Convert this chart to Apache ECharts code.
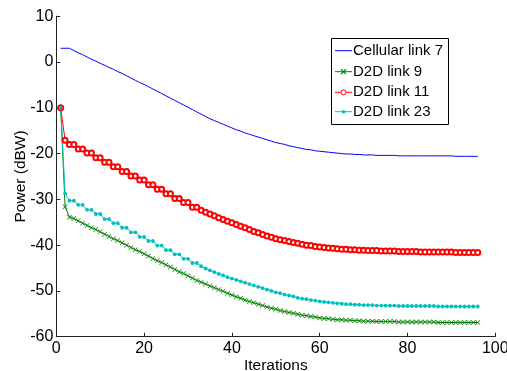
<!DOCTYPE html>
<html>
<head>
<meta charset="utf-8">
<script src="https://cdn.jsdelivr.net/npm/echarts@6/dist/echarts.min.js"></script>
<style>
html,body{margin:0;padding:0;background:#fff;}
#c{width:507px;height:371px;}
</style>
</head>
<body>
<div id="c"></div>
<script>
var iterations = [1,2,3,4,5,6,7,8,9,10,11,12,13,14,15,16,17,18,19,20,21,22,23,24,25,26,27,28,29,30,31,32,33,34,35,36,37,38,39,40,41,42,43,44,45,46,47,48,49,50,51,52,53,54,55,56,57,58,59,60,61,62,63,64,65,66,67,68,69,70,71,72,73,74,75,76,77,78,79,80,81,82,83,84,85,86,87,88,89,90,91,92,93,94,95,96];

var cellular7 = [3.0,3.0,3.0,2.5,2.0,1.6,1.1,0.6,0.2,-0.3,
-0.7,-1.2,-1.6,-2.1,-2.5,-3.0,-3.5,-4.0,-4.5,-4.9,
-5.4,-5.9,-6.4,-6.9,-7.4,-7.9,-8.4,-8.9,-9.4,-9.9,
-10.4,-10.9,-11.4,-11.9,-12.4,-12.8,-13.2,-13.6,-14.0,-14.4,
-14.8,-15.1,-15.5,-15.8,-16.1,-16.4,-16.7,-17.0,-17.3,-17.6,
-17.8,-18.0,-18.3,-18.5,-18.7,-18.9,-19.1,-19.2,-19.4,-19.5,
-19.6,-19.7,-19.8,-19.9,-20.0,-20.1,-20.1,-20.2,-20.2,-20.3,
-20.3,-20.3,-20.4,-20.4,-20.4,-20.4,-20.4,-20.5,-20.5,-20.5,
-20.5,-20.5,-20.5,-20.5,-20.5,-20.5,-20.5,-20.5,-20.5,-20.5,
-20.6,-20.6,-20.6,-20.6,-20.6,-20.6];

var d2d9 = [-10,-31.6,-33.9,-34.2,-34.7,-35.2,-35.7,-36.2,-36.6,-37.1,
-37.6,-38.1,-38.6,-39.0,-39.5,-40.0,-40.5,-41.0,-41.4,-41.9,
-42.4,-42.9,-43.4,-43.8,-44.3,-44.8,-45.3,-45.8,-46.2,-46.7,
-47.2,-47.7,-48.1,-48.5,-48.9,-49.3,-49.7,-50.1,-50.5,-50.9,
-51.3,-51.6,-52.0,-52.3,-52.6,-52.9,-53.2,-53.5,-53.8,-54.0,
-54.3,-54.5,-54.7,-54.9,-55.1,-55.3,-55.4,-55.6,-55.7,-55.9,
-56.0,-56.1,-56.2,-56.3,-56.3,-56.4,-56.4,-56.5,-56.5,-56.6,
-56.6,-56.6,-56.7,-56.7,-56.7,-56.7,-56.7,-56.8,-56.8,-56.8,
-56.8,-56.8,-56.8,-56.8,-56.8,-56.8,-56.9,-56.9,-56.9,-56.9,
-56.9,-56.9,-56.9,-56.9,-56.9,-56.9];

var d2d11 = [-10,-17.1,-18.0,-18.0,-19.0,-19.0,-19.9,-19.9,-20.9,-20.9,
-21.9,-21.9,-22.9,-22.9,-23.9,-23.9,-24.9,-24.9,-25.8,-25.8,
-26.8,-26.8,-27.8,-27.8,-28.8,-28.8,-29.8,-29.8,-30.7,-30.7,
-31.7,-31.7,-32.4,-32.8,-33.2,-33.6,-34.0,-34.4,-34.8,-35.1,
-35.5,-35.9,-36.2,-36.6,-37.0,-37.3,-37.7,-38.0,-38.3,-38.6,
-38.8,-39.0,-39.2,-39.4,-39.6,-39.8,-40.0,-40.1,-40.3,-40.4,
-40.5,-40.6,-40.7,-40.8,-40.9,-40.9,-41.0,-41.0,-41.1,-41.1,
-41.2,-41.2,-41.2,-41.3,-41.3,-41.3,-41.3,-41.4,-41.4,-41.4,
-41.4,-41.4,-41.5,-41.5,-41.5,-41.5,-41.5,-41.5,-41.5,-41.5,
-41.6,-41.6,-41.6,-41.6,-41.6,-41.6];

var d2d23 = [-10,-28.7,-30.3,-30.3,-31.2,-31.2,-32.3,-32.3,-33.2,-33.2,
-34.3,-34.3,-35.2,-35.2,-36.2,-36.2,-37.2,-37.2,-38.2,-38.2,
-39.1,-39.1,-40.1,-40.1,-41.1,-41.1,-42.0,-42.0,-43.0,-43.0,
-43.9,-43.9,-44.6,-45.1,-45.5,-45.9,-46.3,-46.6,-47.0,-47.3,
-47.6,-47.9,-48.2,-48.5,-48.8,-49.1,-49.4,-49.7,-50.0,-50.3,
-50.5,-50.8,-51.0,-51.2,-51.5,-51.7,-51.8,-52.0,-52.1,-52.3,
-52.4,-52.5,-52.6,-52.7,-52.8,-52.9,-52.9,-53.0,-53.0,-53.1,
-53.1,-53.1,-53.2,-53.2,-53.2,-53.2,-53.2,-53.3,-53.3,-53.3,
-53.3,-53.3,-53.3,-53.3,-53.3,-53.3,-53.4,-53.4,-53.4,-53.4,
-53.4,-53.4,-53.4,-53.4,-53.4,-53.4];

var seriesNames = ['Cellular link 7','D2D link 9','D2D link 11','D2D link 23'];
var seriesColors = ['#0000ff','#008000','#ff0000','#00bfbf'];
var xTicks = [0,20,40,60,80,100];
var yTicks = [-60,-50,-40,-30,-20,-10,0,10];

function pairs(ys){ return iterations.map(function(x,i){ return [x, ys[i]]; }); }

var FONT = 'Liberation Sans, Arial, sans-serif';
var xMark = 'path://M0,1L1,0L5,4L9,0L10,1L6,5L10,9L9,10L5,6L1,10L0,9L4,5Z';

// legend drawn with graphic elements (MATLAB style: line + marker + text)
var LG = {x:331, y:38, w:117, h:86, rows:[50.7,71.7,92.3,111.7], lx0:335, lx1:352, tx:353};
var legendGraphics = [{
  type:'rect', shape:{x:LG.x+0.5, y:LG.y+0.5, width:LG.w, height:LG.h},
  style:{fill:'#fff', stroke:'#000', lineWidth:1}, z:100
}];
seriesNames.forEach(function(name, i){
  var cy = LG.rows[i], c = seriesColors[i], mx = (LG.lx0+LG.lx1)/2;
  legendGraphics.push({type:'line', shape:{x1:LG.lx0, y1:cy, x2:LG.lx1, y2:cy}, style:{stroke:c, lineWidth:1}, z:101});
  if (i === 1) {
    legendGraphics.push({type:'polyline', shape:{points:[[mx-2.5,cy-2.5],[mx+2.5,cy+2.5]]}, style:{stroke:c, lineWidth:1.2, fill:null}, z:102});
    legendGraphics.push({type:'polyline', shape:{points:[[mx-2.5,cy+2.5],[mx+2.5,cy-2.5]]}, style:{stroke:c, lineWidth:1.2, fill:null}, z:102});
  } else if (i === 2) {
    legendGraphics.push({type:'circle', shape:{cx:mx, cy:cy, r:2.5}, style:{fill:'#fff', stroke:c, lineWidth:1}, z:102});
  } else if (i === 3) {
    legendGraphics.push({type:'circle', shape:{cx:mx, cy:cy, r:1.8}, style:{fill:c}, z:102});
  }
  legendGraphics.push({type:'text', x:LG.tx, y:cy, style:{text:name, fill:'#000', font:'15px Liberation Sans, Arial, sans-serif', verticalAlign:'middle', align:'left'}, z:102});
});

var chart = echarts.init(document.getElementById('c'), null, {renderer:'canvas'});
chart.setOption({
  animation:false,
  backgroundColor:'#fff',
  grid:{left:56.3, right:11.7, top:16.2, bottom:34.3, containLabel:false, outerBoundsMode:'none'},
  xAxis:{
    type:'value', min:xTicks[0], max:xTicks[xTicks.length-1], interval:20,
    name:'Iterations', nameLocation:'middle', nameGap:21, nameMoveOverlap:false,
    nameTextStyle:{fontFamily:FONT, fontSize:15.5, color:'#000'},
    axisLine:{onZero:false, lineStyle:{color:'#222', width:1}},
    axisTick:{inside:true, length:4, lineStyle:{color:'#222'}},
    axisLabel:{fontFamily:FONT, fontSize:16, color:'#000', margin:4},
    splitLine:{show:false}
  },
  yAxis:{
    type:'value', min:yTicks[0], max:yTicks[yTicks.length-1], interval:10,
    name:'Power (dBW)', nameLocation:'middle', nameGap:28, nameRotate:90, nameMoveOverlap:false,
    nameTextStyle:{fontFamily:FONT, fontSize:15.5, color:'#000'},
    axisLine:{show:true, onZero:false, lineStyle:{color:'#222', width:1}},
    axisTick:{show:true, inside:true, length:4, lineStyle:{color:'#222'}},
    axisLabel:{fontFamily:FONT, fontSize:16, color:'#000', margin:3},
    splitLine:{show:false}
  },
  graphic:legendGraphics,
  series:[
    {name:seriesNames[0], type:'line', data:pairs(cellular7), showSymbol:false, symbol:'none',
     lineStyle:{color:seriesColors[0], width:1}, itemStyle:{color:seriesColors[0]}},
    {name:seriesNames[1], type:'line', data:pairs(d2d9), symbol:xMark, symbolSize:5,
     lineStyle:{color:seriesColors[1], width:1}, itemStyle:{color:seriesColors[1]}},
    {name:seriesNames[2], type:'line', data:pairs(d2d11), symbol:'emptyCircle', symbolSize:5,
     lineStyle:{color:seriesColors[2], width:1}, itemStyle:{color:seriesColors[2], borderColor:seriesColors[2], borderWidth:0.8}},
    {name:seriesNames[3], type:'line', data:pairs(d2d23), symbol:'circle', symbolSize:3.8,
     lineStyle:{color:seriesColors[3], width:1}, itemStyle:{color:seriesColors[3]}}
  ]
});
</script>
</body>
</html>
